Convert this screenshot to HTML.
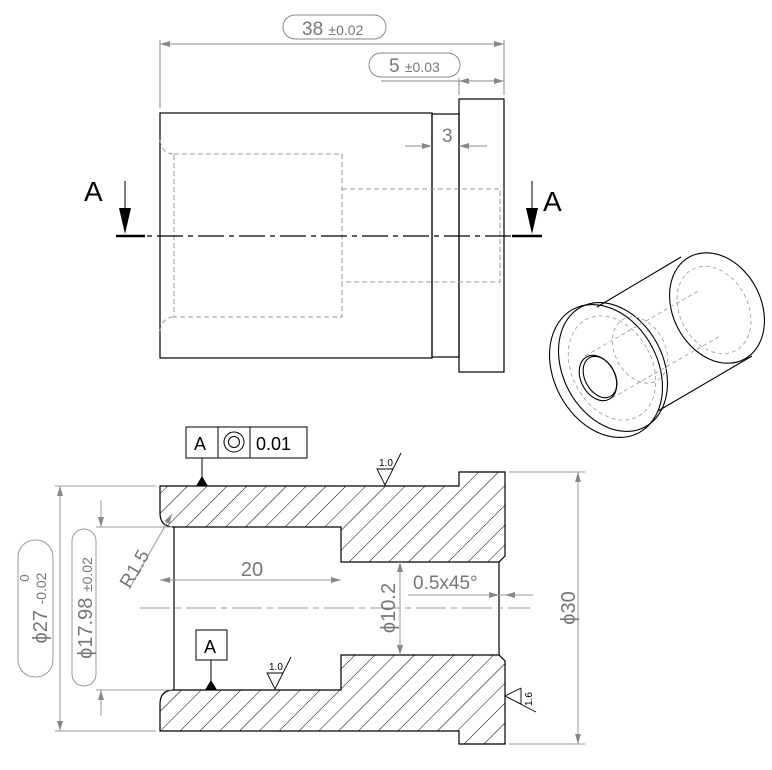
<!DOCTYPE html>
<html><head><style>
html,body{margin:0;padding:0;background:#fff}
svg{display:block}
text{font-family:"Liberation Sans",sans-serif;fill:#777}
</style></head><body>
<svg width="772" height="770" viewBox="0 0 772 770" xmlns="http://www.w3.org/2000/svg">
<defs>
<pattern id="h" patternUnits="userSpaceOnUse" width="14" height="14" patternTransform="rotate(45)">
<line x1="0" y1="0" x2="0" y2="14" stroke="#000" stroke-width="1"/>
</pattern>
<marker id="ar" viewBox="0 0 10 6" refX="10" refY="3" markerWidth="12" markerHeight="6" orient="auto-start-reverse" markerUnits="userSpaceOnUse"><path d="M0,0 L10,3 L0,6 Z" fill="#888"/></marker>
</defs>

<!-- TOP VIEW -->
<g fill="none" stroke="#000" stroke-width="1.2">
<rect x="160" y="113" width="272" height="245"/>
<rect x="432" y="114" width="27" height="243"/>
<rect x="459" y="99" width="45" height="273"/>
</g>
<g fill="none" stroke="#999" stroke-width="1" stroke-dasharray="5,3">
<path d="M174,154 H342 V317 H174 Z"/>
<path d="M160,140 Q162,154 174,154 M160,331 Q162,317 174,317"/>
<path d="M342,189 H500 V282 H342"/>
</g>
<line x1="116" y1="236" x2="540" y2="236" stroke="#000" stroke-width="1.2" stroke-dasharray="26,5,5,5"/>
<line x1="116" y1="236" x2="145" y2="236" stroke="#000" stroke-width="2.5"/>
<line x1="512" y1="236" x2="542" y2="236" stroke="#000" stroke-width="2.5"/>
<line x1="125" y1="181" x2="125" y2="210" stroke="#000"/>
<path d="M119,208 L131,208 L125,234 Z" fill="#000"/>
<line x1="532" y1="181" x2="532" y2="210" stroke="#000"/>
<path d="M526,208 L538,208 L532,234 Z" fill="#000"/>
<text x="84" y="201" font-size="28" style="fill:#000">A</text>
<text x="543" y="211" font-size="28" style="fill:#000">A</text>

<g stroke="#888" stroke-width="1" fill="none">
<line x1="160" y1="40" x2="160" y2="108"/>
<line x1="504" y1="40" x2="504" y2="95"/>
<line x1="160" y1="44" x2="504" y2="44" marker-start="url(#ar)" marker-end="url(#ar)"/>
<rect x="283" y="15" width="103" height="24" rx="12"/>
<line x1="459" y1="78" x2="459" y2="95"/>
<line x1="381" y1="81" x2="459" y2="81"/>
<line x1="459" y1="81" x2="504" y2="81" marker-start="url(#ar)" marker-end="url(#ar)"/>
<rect x="369" y="53" width="91" height="24" rx="12"/>
<line x1="405" y1="146" x2="432" y2="146" marker-end="url(#ar)"/>
<line x1="487" y1="146" x2="459" y2="146" marker-end="url(#ar)"/>
</g>
<text x="302" y="35" font-size="19">38 <tspan font-size="14">±0.02</tspan></text>
<text x="389" y="72" font-size="19">5 <tspan font-size="14">±0.03</tspan></text>
<text x="442" y="142" font-size="19">3</text>

<!-- ISOMETRIC -->
<g fill="none" stroke="#000" stroke-width="1.1">
<ellipse cx="717" cy="308" rx="44" ry="58" transform="rotate(-28 717 308)"/>
<ellipse cx="606" cy="371" rx="52" ry="70" transform="rotate(-28 606 371)"/>
<ellipse cx="613" cy="367" rx="50" ry="68" transform="rotate(-28 613 367)"/>
<ellipse cx="598" cy="378" rx="17" ry="24" transform="rotate(-28 598 378)"/>
<ellipse cx="600" cy="377" rx="15" ry="22" transform="rotate(-28 600 377)"/>
<line x1="597" y1="307" x2="681" y2="257"/>
<line x1="658" y1="411" x2="752" y2="356"/>
</g>
<g fill="none" stroke="#999" stroke-width="0.8" stroke-dasharray="4,3">
<ellipse cx="714" cy="310" rx="34" ry="46" transform="rotate(-28 714 310)"/>
<ellipse cx="612" cy="368" rx="40" ry="55" transform="rotate(-28 612 368)"/>
<ellipse cx="640" cy="350" rx="25" ry="35" transform="rotate(-28 640 350)"/>
<line x1="585" y1="356" x2="700" y2="290"/>
<line x1="612" y1="398" x2="720" y2="336"/>
</g>

<!-- SECTION VIEW -->
<g stroke="#000" stroke-width="1.2" fill="url(#h)">
<path d="M160,486 L459,486 L459,472 L505,472 L505,556 L499,562 L341,562 L341,527 L174,527 Q160,527 160,513 Z"/>
<path d="M160,731 L459,731 L459,744 L505,744 L505,661 L499,655 L341,655 L341,690 L174,690 Q160,690 160,704 Z"/>
</g>
<line x1="174" y1="527" x2="174" y2="690" stroke="#000" stroke-width="1.2"/>
<line x1="499" y1="562" x2="499" y2="655" stroke="#000" stroke-width="1.2"/>
<line x1="140" y1="608" x2="530" y2="608" stroke="#999" stroke-width="1" stroke-dasharray="30,5,6,5"/>

<g stroke="#999" stroke-width="1" fill="none">
<line x1="55" y1="486" x2="156" y2="486"/>
<line x1="55" y1="731" x2="156" y2="731"/>
<line x1="60" y1="486" x2="60" y2="731" marker-start="url(#ar)" marker-end="url(#ar)"/>
<rect x="18" y="540" width="35" height="137" rx="17"/>
<line x1="96" y1="527" x2="172" y2="527"/>
<line x1="96" y1="690" x2="172" y2="690"/>
<line x1="101" y1="500" x2="101" y2="527" marker-end="url(#ar)"/>
<line x1="101" y1="716" x2="101" y2="690" marker-end="url(#ar)"/>
<rect x="72" y="529" width="24" height="157" rx="12"/>
<line x1="129" y1="589" x2="172" y2="514" marker-end="url(#ar)"/>
<line x1="160" y1="580" x2="341" y2="580" marker-start="url(#ar)" marker-end="url(#ar)"/>
<line x1="400" y1="562" x2="400" y2="655" marker-start="url(#ar)" marker-end="url(#ar)"/>
<line x1="408" y1="595" x2="533" y2="595"/>
<line x1="487" y1="595" x2="499" y2="595" marker-end="url(#ar)"/>
<line x1="518" y1="595" x2="505" y2="595" marker-end="url(#ar)"/>
<line x1="509" y1="472" x2="585" y2="472"/>
<line x1="509" y1="744" x2="585" y2="744"/>
<line x1="578" y1="472" x2="578" y2="744" marker-start="url(#ar)" marker-end="url(#ar)"/>
</g>
<text transform="translate(47,608) rotate(-90)" font-size="20" text-anchor="middle">ϕ27 <tspan font-size="14" dy="-1">-0.02</tspan></text>
<text transform="translate(29,608) rotate(-90)" font-size="13" text-anchor="middle" dx="30">0</text>
<text transform="translate(92,608) rotate(-90)" font-size="20" text-anchor="middle">ϕ17.98 <tspan font-size="14">±0.02</tspan></text>
<text transform="translate(140,572) rotate(-60)" font-size="19" text-anchor="middle">R1.5</text>
<text x="252" y="576" font-size="20" text-anchor="middle">20</text>
<text transform="translate(395,608) rotate(-90)" font-size="20" text-anchor="middle">ϕ10.2</text>
<text x="413" y="589" font-size="19">0.5x45°</text>
<text transform="translate(575,608) rotate(-90)" font-size="20" text-anchor="middle">ϕ30</text>

<!-- FCF -->
<g stroke="#000" stroke-width="1" fill="none">
<rect x="186" y="427" width="32" height="31"/>
<rect x="218" y="427" width="32" height="31"/>
<rect x="250" y="427" width="57" height="31"/>
<circle cx="234" cy="442" r="10"/>
<circle cx="234" cy="442" r="5.5"/>
<line x1="202" y1="458" x2="202" y2="478"/>
<rect x="196" y="630" width="31" height="30"/>
<line x1="211" y1="660" x2="211" y2="682"/>
</g>
<path d="M196,486 L208,486 L202,476 Z" fill="#000"/>
<path d="M205,690 L217,690 L211,680 Z" fill="#000"/>
<text x="194" y="450" font-size="18" style="fill:#000">A</text>
<text x="256" y="450" font-size="18" style="fill:#000">0.01</text>
<text x="204" y="653" font-size="18" style="fill:#000">A</text>

<!-- Surface finish -->
<g stroke="#000" stroke-width="0.9" fill="none">
<path d="M393,469 L377,469 L385,485 L401,453"/>
<path d="M283,673 L267,673 L275,689 L291,657"/>
<path d="M521,688 L521,704 L505,696 L536,712 M505,696 L521,688"/>
</g>
<text x="379" y="466" font-size="10" style="fill:#000">1.0</text>
<text x="269" y="670" font-size="10" style="fill:#000">1.0</text>
<text transform="translate(532,706) rotate(-90)" font-size="10" style="fill:#000">1.6</text>
</svg>
</body></html>
